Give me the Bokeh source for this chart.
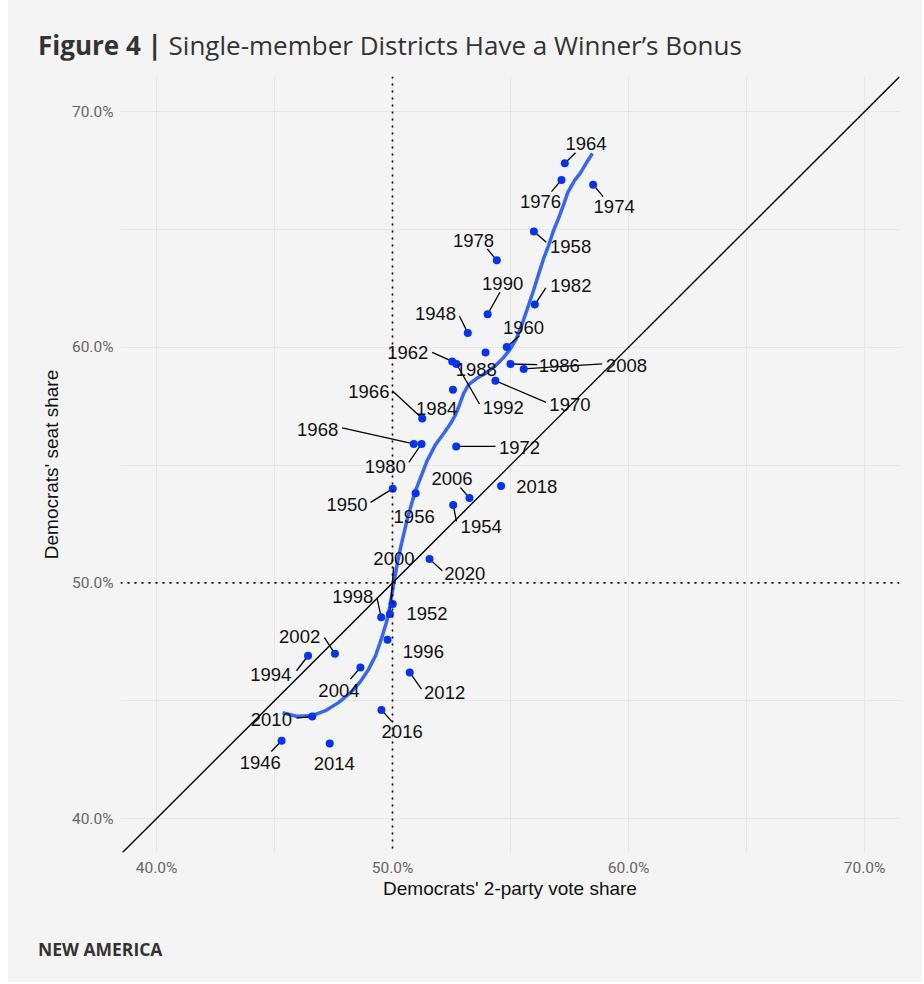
from bokeh.plotting import figure
from bokeh.models import (Range1d, FixedTicker, PrintfTickFormatter, Span, Slope,
                          ColumnDataSource, Div, Spacer)
from bokeh.layouts import column, row
from bokeh.core.properties import value
from bokeh.embed import file_html
from bokeh.resources import INLINE

# ---------------- data ----------------
years = [1946, 1948, 1950, 1952, 1954, 1956, 1958, 1960, 1962, 1964, 1966, 1968,
         1970, 1972, 1974, 1976, 1978, 1980, 1982, 1984, 1986, 1988, 1990, 1992,
         1994, 1996, 1998, 2000, 2002, 2004, 2006, 2008, 2010, 2012, 2014, 2016,
         2018, 2020]
vote_share = [45.30, 53.19, 50.01, 50.01, 52.57, 50.98, 55.99, 54.84, 52.53, 57.30,
              51.26, 50.90, 54.36, 52.70, 58.50, 57.16, 54.42, 51.23, 56.03, 52.56,
              55.00, 53.94, 54.03, 52.71, 46.42, 49.79, 49.52, 49.89, 47.56, 48.64,
              53.26, 55.56, 46.60, 50.73, 47.34, 49.53, 54.60, 51.57]
seat_share = [43.30, 60.60, 54.00, 49.10, 53.31, 53.80, 64.91, 60.01, 59.40, 67.81,
              56.98, 55.90, 58.58, 55.79, 66.90, 67.10, 63.69, 55.90, 61.81, 58.20,
              59.29, 59.78, 61.40, 59.29, 46.91, 47.59, 48.54, 48.68, 46.99, 46.41,
              53.60, 59.08, 44.33, 46.20, 43.19, 44.61, 54.11, 51.01]

# smoothed (loess) curve
curve_x = [45.34, 45.93, 46.57, 47.16, 47.71, 48.22, 48.64, 48.98, 49.28, 49.53,
           49.75, 49.89, 50.00, 50.11, 50.21, 50.34, 50.49, 50.64, 50.81, 50.97,
           51.19, 51.47, 51.82, 52.16, 52.46, 52.67, 52.84, 53.01, 53.22, 53.56,
           53.98, 54.36, 54.70, 55.00, 55.25, 55.51, 55.76, 55.97, 56.17, 56.40,
           56.61, 56.82, 57.03, 57.25, 57.42, 57.71, 57.97, 58.22, 58.47]
curve_y = [44.49, 44.34, 44.36, 44.58, 44.92, 45.34, 45.81, 46.32, 46.91, 47.63,
           48.35, 49.03, 49.67, 50.31, 50.86, 51.49, 52.13, 52.77, 53.36, 53.91,
           54.47, 55.19, 55.87, 56.33, 56.76, 57.14, 57.56, 58.03, 58.41, 58.67,
           58.92, 59.22, 59.56, 59.94, 60.37, 61.04, 61.77, 62.40, 63.04, 63.76,
           64.31, 64.95, 65.46, 66.05, 66.56, 67.07, 67.41, 67.84, 68.22]

tick_values = [40, 50, 60, 70]
minor_tick_values = [45, 55, 65]

title_bold = "Figure 4 |"
title_text = "Single-member Districts Have a Winner\u2019s Bonus"
x_title = "Democrats' 2-party vote share"
y_title = "Democrats' seat share"
footer_text = "NEW AMERICA"

# ---------------- label layout (pixel offsets from each point) ----------------
label_dx = [-21.3, -32.3, -45.7, 34.2, 28.0, -1.5, 36.7, 16.7, -44.5, 21.2,
            -53.4, -96.1, 74.5, 63.3, 21.0, -21.0, -23.3, -36.3, 36.0, -16.3,
            48.7, -9.2, 15.0, 46.8, -37.3, 35.8, -28.4, 4.0, -35.3, -21.5,
            -17.5, 102.7, -40.9, 34.9, 4.5, 20.7, 35.7, 35.2]
label_dy = [21.8, -19.7, 15.5, 9.2, 21.5, 22.8, 14.8, -19.3, -9.0, -19.9,
            -27.4, -14.6, 23.7, 0.6, 22.2, 21.5, -19.9, 22.5, -19.5, 19.3,
            1.7, 16.6, -30.7, 44.0, 18.8, 11.8, -20.5, -55.8, -17.2, 22.8,
            -19.8, -3.3, 3.1, 20.5, 20.5, 21.5, 0.5, 14.2]
N = None
seg_dx = [-10.3, -8.3, -22.2, N, 3.3, N, 12.4, 12.7, -20.0, 10.7,
          -30.0, -71.6, 50.7, 39.3, 10.0, -10.0, -9.6, -12.7, 11.0, N,
          26.7, N, 12.3, 23.0, -11.5, N, -4.0, 3.7, -10.5, -10.0,
          -9.0, 78.4, -15.7, 11.7, N, 10.3, N, 12.7]
seg_dy = [10.7, -16.8, 13.7, N, 16.4, N, 10.7, -11.3, -9.0, -10.4,
          -27.7, -16.0, 21.7, 0.0, 12.0, 11.7, -11.4, 18.4, -16.7, N,
          0.7, N, -22.0, 40.0, 15.0, N, -18.4, -46.6, -16.3, 11.6,
          -10.6, -5.0, 1.6, 16.6, N, 11.4, N, 11.7]

# ---------------- figure ----------------
BG = "#f4f4f4"
GRID = "#e7e7e7"
TXT = "#333333"
W = 914
TITLE_H, FIG_H, FOOT_H = 60, 860, 62
ML, MR, MT, MB = 112, 23, 16, 68
FW, FH = W - ML - MR, FIG_H - MT - MB
x0, x1 = 38.475, 71.48
y0, y1 = 38.56, 71.49
kx = (x1 - x0) / FW
ky = (y1 - y0) / FH

p = figure(width=W, height=FIG_H, output_backend="svg", toolbar_location=None,
           x_range=Range1d(x0, x1), y_range=Range1d(y0, y1),
           min_border_left=ML, min_border_right=MR, min_border_top=MT,
           min_border_bottom=MB)
p.background_fill_color = BG
p.border_fill_color = BG
p.outline_line_color = None

for ax in (p.xaxis[0], p.yaxis[0]):
    ax.ticker = FixedTicker(ticks=tick_values, minor_ticks=minor_tick_values)
    ax.formatter = PrintfTickFormatter(format="%.1f%%")
    ax.axis_line_color = None
    ax.major_tick_line_color = None
    ax.minor_tick_line_color = None
    ax.major_tick_out = 0
    ax.major_label_text_font = "Roboto"
    ax.major_label_text_font_size = "15.5px"
    ax.major_label_text_color = "#666666"
    ax.axis_label_text_font = "Liberation Sans"
    ax.axis_label_text_font_size = "19px"
    ax.axis_label_text_font_style = "normal"
    ax.axis_label_text_color = "#111111"

p.xaxis.axis_label = x_title
p.yaxis.axis_label = y_title
p.xaxis.major_label_standoff = 2
p.yaxis.major_label_standoff = 3
p.xaxis.axis_label_standoff = -2
p.yaxis.axis_label_standoff = 7

for g in (p.xgrid[0], p.ygrid[0]):
    g.grid_line_color = GRID
    g.grid_line_width = 1
    g.minor_grid_line_color = GRID
    g.minor_grid_line_width = 1

# reference lines
p.add_layout(Slope(gradient=1, y_intercept=0, line_color="black", line_width=1.4))
p.add_layout(Span(location=50, dimension="height", line_color="black",
                  line_width=1.6, line_dash="2 5"))
p.add_layout(Span(location=50, dimension="width", line_color="black",
                  line_width=1.6, line_dash="2 5"))

# loess curve
p.line(curve_x, curve_y, line_color="#3366ff", line_width=3.5)

# label segments
sx0, sy0, sx1, sy1 = [], [], [], []
for vx, vy, dx, dy in zip(vote_share, seat_share, seg_dx, seg_dy):
    if dx is None:
        continue
    sx0.append(vx); sy0.append(vy)
    sx1.append(vx + dx * kx); sy1.append(vy - dy * ky)
p.segment(sx0, sy0, sx1, sy1, line_color="black", line_width=1.3)

# points
src = ColumnDataSource(dict(x=vote_share, y=seat_share,
                            label=[str(y) for y in years],
                            dx=label_dx, dy=label_dy))
p.scatter("x", "y", source=src, size=8, fill_color="#0033ff", line_color=None)

p.text("x", "y", text="label", source=src, x_offset="dx", y_offset="dy",
       text_align="center", text_baseline="middle",
       text_font=value("Liberation Sans"), text_font_size="18.5px",
       text_color="#111111")

# ---------------- title / footer ----------------
title_div = Div(
    text=(f'<div style="padding:32px 0 0 30px;font-family:\'Open Sans\';'
          f'font-size:26px;line-height:26px;color:{TXT};white-space:nowrap">'
          f'<span style="font-weight:700">{title_bold}</span> {title_text}</div>'),
    width=W, height=TITLE_H,
    styles={"background-color": BG, "margin": "0", "padding": "0"})
footer_div = Div(
    text=(f'<div style="padding:21px 0 0 30px;font-family:\'Open Sans\';'
          f'font-size:17.5px;line-height:17.5px;font-weight:700;color:{TXT};'
          f'white-space:nowrap">{footer_text}</div>'),
    width=W, height=FOOT_H,
    styles={"background-color": BG, "margin": "0", "padding": "0"})

layout = row(Spacer(width=8, height=TITLE_H + FIG_H + FOOT_H),
             column(title_div, p, footer_div, spacing=0,
                    styles={"background-color": BG}),
             spacing=0)

open("out.html", "w").write(file_html(layout, INLINE))
